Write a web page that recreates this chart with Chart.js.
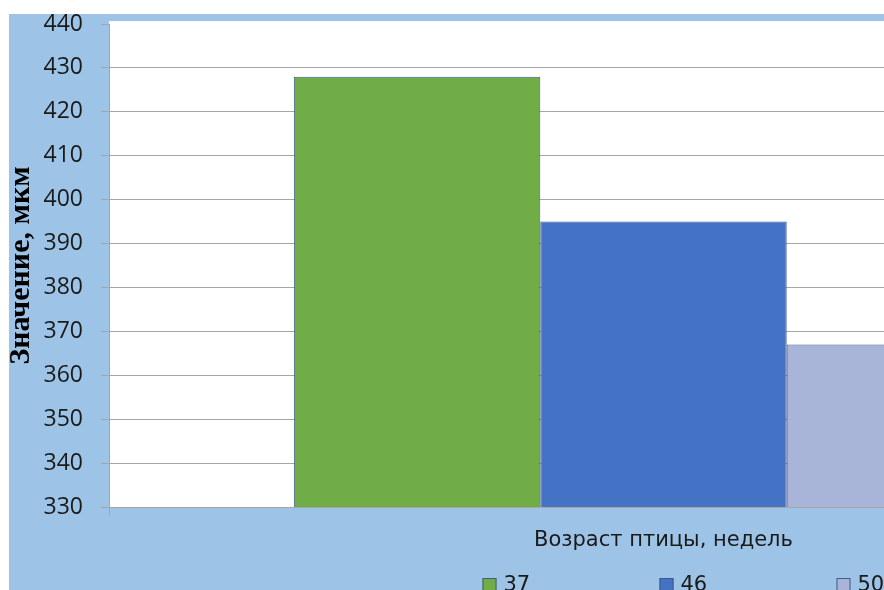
<!DOCTYPE html>
<html>
<head>
<meta charset="utf-8">
<script src="https://cdn.jsdelivr.net/npm/chart.js@4"></script>
<style>
  html, body { margin: 0; padding: 0; background: #fff; overflow: hidden; width: 884px; height: 590px; }
  #wrap { position: absolute; left: 9px; top: 14px; width: 1220px; height: 600px; }
</style>
</head>
<body>
<div id="wrap"><canvas id="chart" width="1220" height="600"></canvas></div>
<script>
// возраст птицы (недель) и значения, мкм
var ages = ['37', '46', '50'];
var values = [428, 395, 367];
var colors = ['#70AD47', '#4472C4', '#A9B4D9'];
var yMin = 330, yMax = 440, yStep = 10;

var bgBlue = '#9DC3E6';
var gridGrey = '#a6a6a6';
var edge = '#41598B';

// фон: голубая подложка и белая область построения
var backdrop = {
    id: 'backdrop',
    beforeDraw: function (chart) {
        var ctx = chart.ctx, a = chart.chartArea;
        ctx.save();
        ctx.fillStyle = bgBlue;
        ctx.fillRect(0, 0, chart.width, chart.height);
        ctx.fillStyle = '#fff';
        ctx.fillRect(a.left, a.top - 3, a.right - a.left, a.bottom - a.top + 3);
        ctx.restore();
    }
};

// легенда снизу, как в Excel
var bottomLegend = {
    id: 'bottomLegend',
    afterDraw: function (chart) {
        var ctx = chart.ctx, a = chart.chartArea;
        var x0 = (a.left + a.right) / 2 - 181;
        var y = 571;
        ctx.save();
        ctx.font = '21px "DejaVu Sans"';
        ctx.textBaseline = 'middle';
        chart.data.datasets.forEach(function (ds, i) {
            var x = x0 + i * 177;
            ctx.fillStyle = ds.backgroundColor;
            ctx.fillRect(x, y - 7, 14, 14);
            ctx.strokeStyle = edge;
            ctx.lineWidth = 1;
            ctx.strokeRect(x + 0.5, y - 6.5, 13, 13);
            ctx.fillStyle = '#1a1a1a';
            ctx.fillText(ds.label, x + 21, y + 1);
        });
        ctx.restore();
    }
};

var datasets = [];
for (var i = 0; i < ages.length; i++) {
    datasets.push({
        label: ages[i],
        data: [values[i]],
        backgroundColor: colors[i],
        borderColor: edge,
        borderWidth: 1,
        barPercentage: 1,
        categoryPercentage: 3 / 4.5
    });
}

var ctx = document.getElementById('chart').getContext('2d');
var chart = new Chart(ctx, {
    type: 'bar',
    data: { labels: [''], datasets: datasets },
    plugins: [backdrop, bottomLegend],
    options: {
        responsive: false,
        animation: false,
        layout: { padding: { left: 0, top: 10, right: 11, bottom: 61 } },
        plugins: {
            legend: { display: false },
            tooltip: { enabled: false }
        },
        scales: {
            x: {
                grid: { display: true, drawOnChartArea: false, offset: true, tickLength: 9, color: gridGrey },
                border: { color: gridGrey },
                ticks: { display: false },
                title: {
                    display: true,
                    text: 'Возраст птицы, недель',
                    color: '#1a1a1a',
                    font: { family: 'DejaVu Sans', size: 21 },
                    padding: 0
                },
                afterFit: function (s) { s.height = 46; }
            },
            y: {
                min: yMin,
                max: yMax,
                ticks: {
                    stepSize: yStep,
                    padding: 18,
                    color: '#1a1a1a',
                    font: { family: 'Open Sans', size: 23 }
                },
                grid: {
                    color: function (c) { return c.tick && c.tick.value === yMax ? 'rgba(0,0,0,0)' : gridGrey; },
                    tickColor: gridGrey,
                    tickLength: 8
                },
                border: { color: gridGrey },
                title: {
                    display: true,
                    text: 'Значение, мкм',
                    color: '#000',
                    font: { family: 'Liberation Serif', size: 30, weight: 'bold', lineHeight: 0.9 },
                    padding: { top: -1, bottom: 0 }
                },
                afterFit: function (s) {
                    s.width = 100;
                    s.paddingTop = 0;
                    s.paddingBottom = 0;
                }
            }
        }
    }
});
</script>
</body>
</html>
